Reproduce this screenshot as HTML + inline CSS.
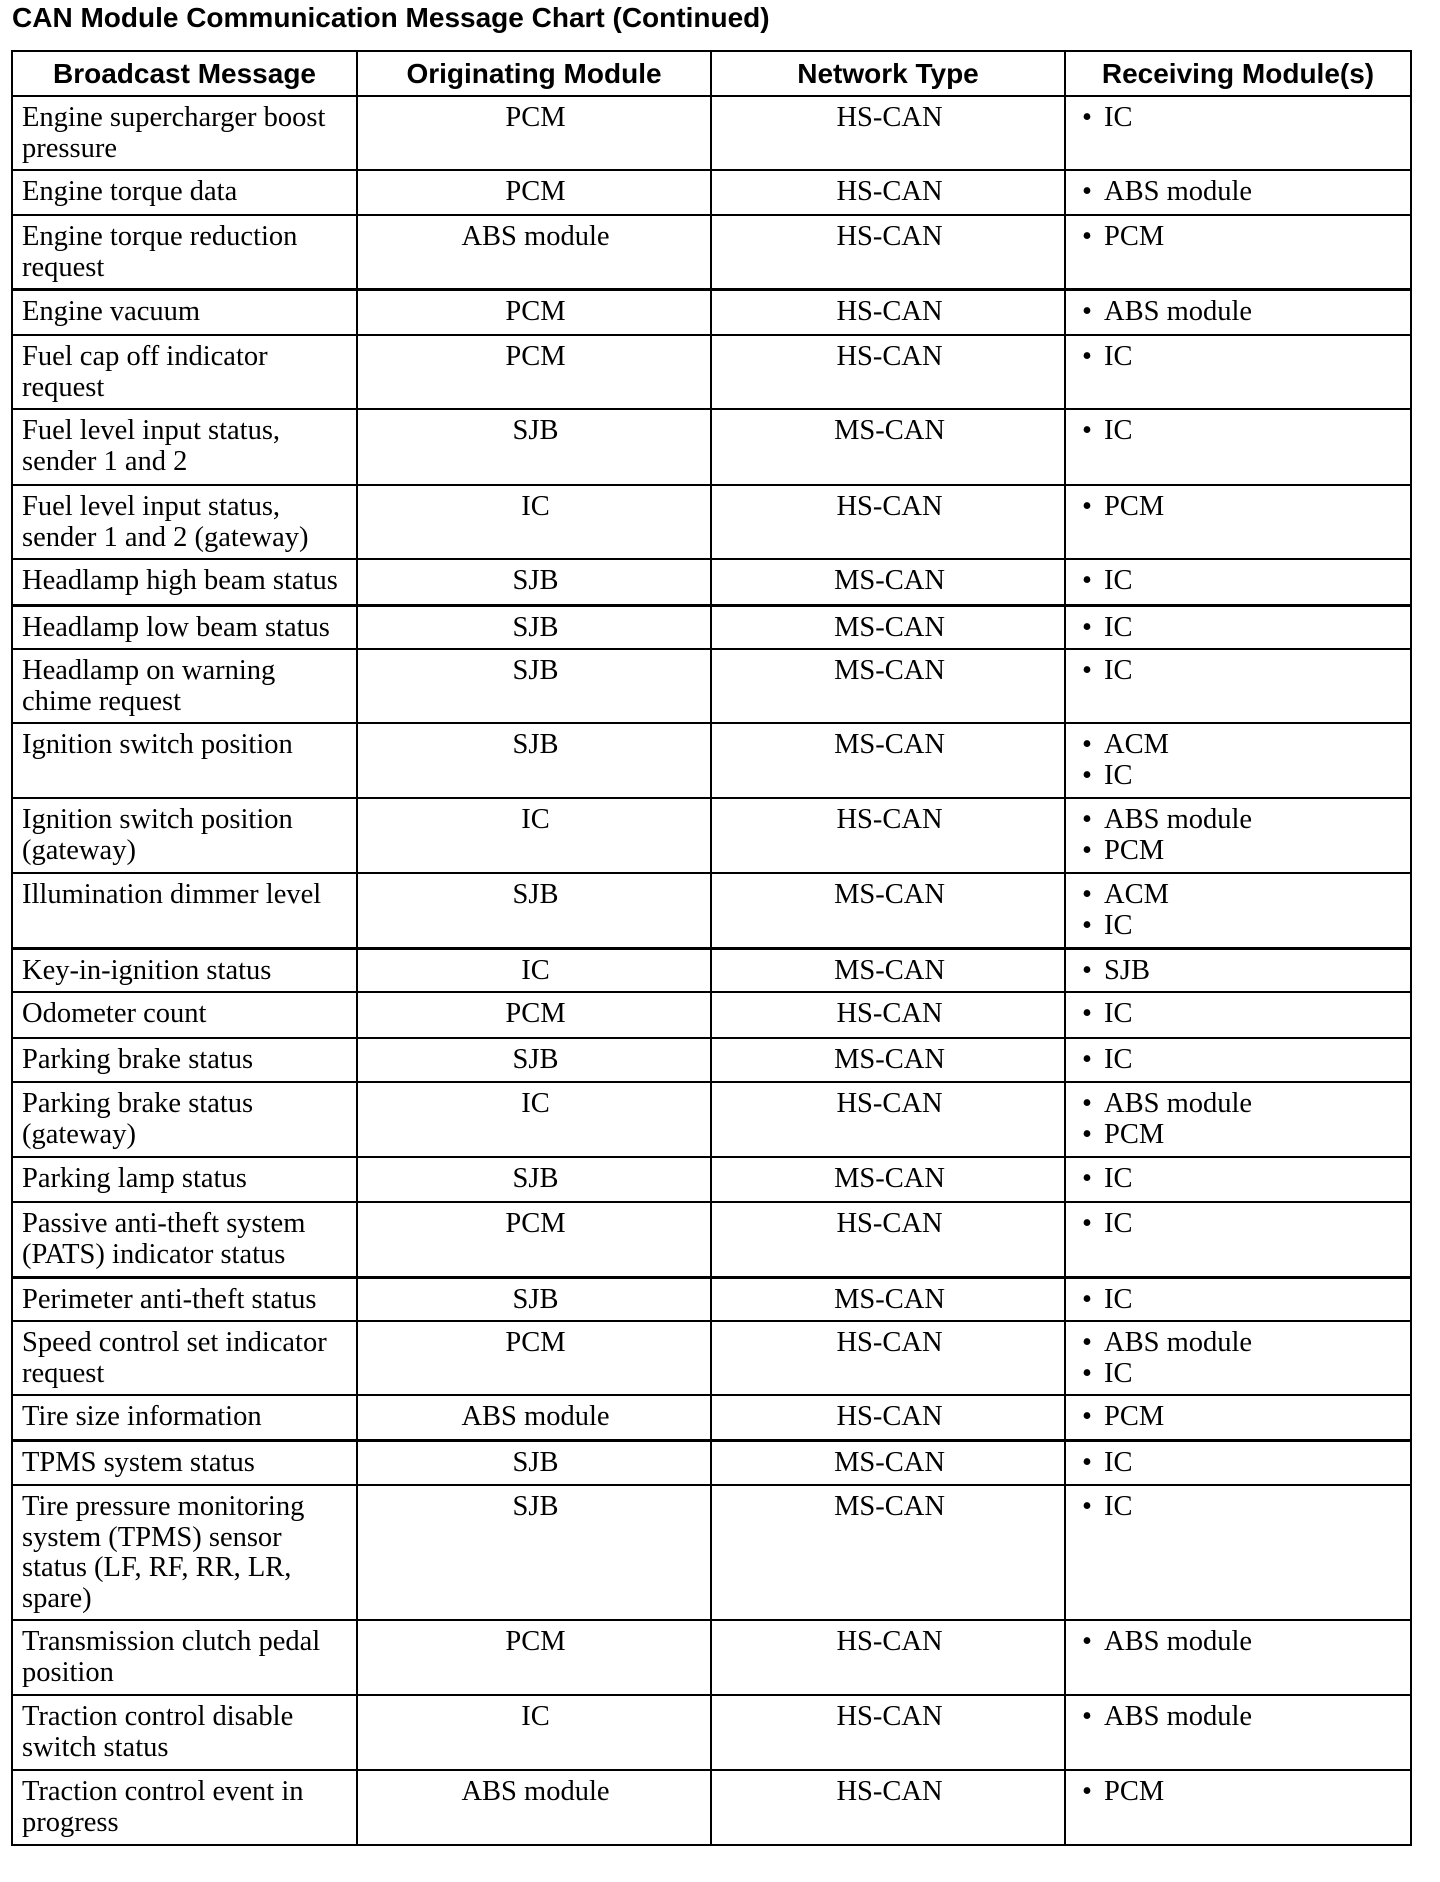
<!DOCTYPE html>
<html><head><meta charset="utf-8"><style>
body{margin:0;background:#fff;width:1440px;height:1882px;position:relative;overflow:hidden}
h1{position:absolute;left:12px;top:2px;margin:0;font:bold 28px "Liberation Sans",sans-serif;color:#000;white-space:nowrap}
table{position:absolute;left:11px;top:50px;border-collapse:collapse;table-layout:fixed;width:1399px}
td,th{border:2px solid #000;vertical-align:top;padding:6px 6px 0 9px;font:28.5px/30.5px "Liberation Serif",serif;color:#000;overflow:hidden;white-space:nowrap}
th{font:bold 28px "Liberation Sans",sans-serif;text-align:center;vertical-align:middle;padding:0}
td.c{text-align:center}
td.r{padding-left:16px}
.b{display:inline-block;width:22px}
tr.t td{border-top:3px solid #000}
</style></head><body>
<h1>CAN Module Communication Message Chart (Continued)</h1>
<table>
<colgroup><col style="width:345px"><col style="width:354px"><col style="width:354px"><col style="width:346px"></colgroup>
<tr style="height:45px"><th>Broadcast Message</th><th>Originating Module</th><th>Network Type</th><th>Receiving Module(s)</th></tr>
<tr style="height:74px"><td>Engine supercharger boost<br>pressure</td><td class="c">PCM</td><td class="c">HS-CAN</td><td class="r"><span class="b">•</span>IC</td></tr>
<tr style="height:45px"><td>Engine torque data</td><td class="c">PCM</td><td class="c">HS-CAN</td><td class="r"><span class="b">•</span>ABS module</td></tr>
<tr style="height:74px"><td>Engine torque reduction<br>request</td><td class="c">ABS module</td><td class="c">HS-CAN</td><td class="r"><span class="b">•</span>PCM</td></tr>
<tr class="t" style="height:46px"><td>Engine vacuum</td><td class="c">PCM</td><td class="c">HS-CAN</td><td class="r"><span class="b">•</span>ABS module</td></tr>
<tr style="height:74px"><td>Fuel cap off indicator<br>request</td><td class="c">PCM</td><td class="c">HS-CAN</td><td class="r"><span class="b">•</span>IC</td></tr>
<tr style="height:76px"><td>Fuel level input status,<br>sender 1 and 2</td><td class="c">SJB</td><td class="c">MS-CAN</td><td class="r"><span class="b">•</span>IC</td></tr>
<tr style="height:74px"><td>Fuel level input status,<br>sender 1 and 2 (gateway)</td><td class="c">IC</td><td class="c">HS-CAN</td><td class="r"><span class="b">•</span>PCM</td></tr>
<tr style="height:46px"><td>Headlamp high beam status</td><td class="c">SJB</td><td class="c">MS-CAN</td><td class="r"><span class="b">•</span>IC</td></tr>
<tr class="t" style="height:44px"><td>Headlamp low beam status</td><td class="c">SJB</td><td class="c">MS-CAN</td><td class="r"><span class="b">•</span>IC</td></tr>
<tr style="height:74px"><td>Headlamp on warning<br>chime request</td><td class="c">SJB</td><td class="c">MS-CAN</td><td class="r"><span class="b">•</span>IC</td></tr>
<tr style="height:75px"><td>Ignition switch position</td><td class="c">SJB</td><td class="c">MS-CAN</td><td class="r"><span class="b">•</span>ACM<br><span class="b">•</span>IC</td></tr>
<tr style="height:75px"><td>Ignition switch position<br>(gateway)</td><td class="c">IC</td><td class="c">HS-CAN</td><td class="r"><span class="b">•</span>ABS module<br><span class="b">•</span>PCM</td></tr>
<tr style="height:75px"><td>Illumination dimmer level</td><td class="c">SJB</td><td class="c">MS-CAN</td><td class="r"><span class="b">•</span>ACM<br><span class="b">•</span>IC</td></tr>
<tr class="t" style="height:44px"><td>Key-in-ignition status</td><td class="c">IC</td><td class="c">MS-CAN</td><td class="r"><span class="b">•</span>SJB</td></tr>
<tr style="height:46px"><td>Odometer count</td><td class="c">PCM</td><td class="c">HS-CAN</td><td class="r"><span class="b">•</span>IC</td></tr>
<tr style="height:44px"><td>Parking brake status</td><td class="c">SJB</td><td class="c">MS-CAN</td><td class="r"><span class="b">•</span>IC</td></tr>
<tr style="height:75px"><td>Parking brake status<br>(gateway)</td><td class="c">IC</td><td class="c">HS-CAN</td><td class="r"><span class="b">•</span>ABS module<br><span class="b">•</span>PCM</td></tr>
<tr style="height:45px"><td>Parking lamp status</td><td class="c">SJB</td><td class="c">MS-CAN</td><td class="r"><span class="b">•</span>IC</td></tr>
<tr style="height:75px"><td>Passive anti-theft system<br>(PATS) indicator status</td><td class="c">PCM</td><td class="c">HS-CAN</td><td class="r"><span class="b">•</span>IC</td></tr>
<tr class="t" style="height:44px"><td>Perimeter anti-theft status</td><td class="c">SJB</td><td class="c">MS-CAN</td><td class="r"><span class="b">•</span>IC</td></tr>
<tr style="height:74px"><td>Speed control set indicator<br>request</td><td class="c">PCM</td><td class="c">HS-CAN</td><td class="r"><span class="b">•</span>ABS module<br><span class="b">•</span>IC</td></tr>
<tr style="height:45px"><td>Tire size information</td><td class="c">ABS module</td><td class="c">HS-CAN</td><td class="r"><span class="b">•</span>PCM</td></tr>
<tr class="t" style="height:45px"><td>TPMS system status</td><td class="c">SJB</td><td class="c">MS-CAN</td><td class="r"><span class="b">•</span>IC</td></tr>
<tr style="height:135px"><td>Tire pressure monitoring<br>system (TPMS) sensor<br>status (LF, RF, RR, LR,<br>spare)</td><td class="c">SJB</td><td class="c">MS-CAN</td><td class="r"><span class="b">•</span>IC</td></tr>
<tr style="height:75px"><td>Transmission clutch pedal<br>position</td><td class="c">PCM</td><td class="c">HS-CAN</td><td class="r"><span class="b">•</span>ABS module</td></tr>
<tr style="height:75px"><td>Traction control disable<br>switch status</td><td class="c">IC</td><td class="c">HS-CAN</td><td class="r"><span class="b">•</span>ABS module</td></tr>
<tr style="height:75px"><td>Traction control event in<br>progress</td><td class="c">ABS module</td><td class="c">HS-CAN</td><td class="r"><span class="b">•</span>PCM</td></tr>
</table>
</body></html>
